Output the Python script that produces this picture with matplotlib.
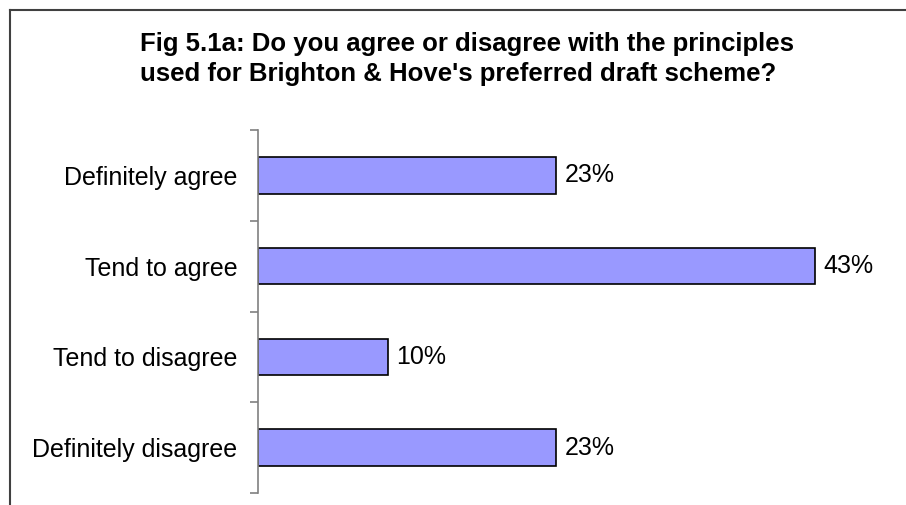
import matplotlib
matplotlib.use("Agg")
import matplotlib.pyplot as plt
from matplotlib.lines import Line2D

plt.rcParams["font.family"] = ["Liberation Sans", "DejaVu Sans"]

categories = ["Definitely agree", "Tend to agree", "Tend to disagree", "Definitely disagree"]
percent = [23, 43, 10, 23]
title = ("Fig 5.1a: Do you agree or disagree with the principles\n"
         "used for Brighton & Hove's preferred draft scheme?")

W, H = 906, 505
fig = plt.figure(figsize=(W / 100, H / 100), dpi=100)

# outer chart frame (only top and left edges fall inside the picture)
fig.add_artist(Line2D([10 / W, 10 / W], [-0.1, 1 - 10 / H], color="#404040", lw=1.5))
fig.add_artist(Line2D([10 / W, 1.1], [1 - 10 / H, 1 - 10 / H], color="#404040", lw=1.5))

fig.text(467 / W, 1 - 59 / H, title, ha="center", va="center", multialignment="left",
         fontsize=18.5, fontweight="bold", linespacing=1.3)

ax = fig.add_axes([258 / W, 12 / H, 647.5 / W, 363 / H])
y = list(range(len(categories)))
ax.barh(y, percent, height=0.4, color="#9999FF", edgecolor="black", linewidth=1.2)
for yi, v in zip(y, percent):
    ax.text(v + 0.65, yi, f"{v}%", va="center", ha="left", fontsize=18)

ax.set_xlim(0, 50)
ax.set_ylim(3.5, -0.5)
ax.set_yticks(y)
ax.set_yticklabels(categories, fontsize=18)
ax.set_yticks([i - 0.5 for i in range(len(categories) + 1)], minor=True)
ax.tick_params(axis="y", which="major", length=0, pad=15)
ax.tick_params(axis="y", which="minor", length=6, color="#808080", width=1.2)
ax.set_xticks([])
for s in ("top", "right", "bottom"):
    ax.spines[s].set_visible(False)
ax.spines["left"].set_color("#808080")
ax.spines["left"].set_linewidth(1.2)

fig.savefig("out.png", dpi=100)
